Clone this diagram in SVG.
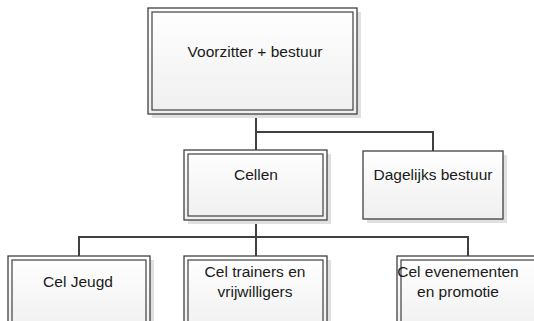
<svg xmlns="http://www.w3.org/2000/svg" width="534" height="321" viewBox="0 0 534 321">
<defs>
<linearGradient id="g" x1="0" y1="0" x2="0" y2="1">
<stop offset="0" stop-color="#ffffff"/>
<stop offset="1" stop-color="#efefef"/>
</linearGradient>
<style>
.sh{fill:#e0e0e0}
.o{fill:url(#g);stroke:#404040;stroke-width:1.3}
.i{fill:none;stroke:#404040;stroke-width:1.2}
.t{font-family:"Liberation Sans",Arial,sans-serif;font-size:15.5px;fill:#1a1a1a;text-anchor:middle}
.c{fill:none;stroke:#404040;stroke-width:2}
</style>
</defs>
<rect width="534" height="321" fill="#ffffff"/>
<g id="connectors">
<path class="c" d="M256,114 V150"/>
<path class="c" d="M256,132 H433 V151"/>
<path class="c" d="M256,220 V256"/>
<path class="c" d="M79,256 V237 H468 V256"/>
</g>
<g id="voorzitter">
<rect class="sh" x="152" y="12" width="209" height="106"/>
<rect class="o" x="148" y="8" width="209" height="106"/>
<rect class="i" x="152" y="12" width="201" height="98"/>
<text class="t" x="255" y="57">Voorzitter + bestuur</text>
</g>
<g id="cellen">
<rect class="sh" x="188" y="154" width="143" height="70"/>
<rect class="o" x="184" y="150" width="143" height="70"/>
<rect class="i" x="188" y="154" width="135" height="62"/>
<text class="t" x="256" y="180">Cellen</text>
</g>
<g id="dagelijks">
<rect class="sh" x="367" y="155" width="140" height="68"/>
<rect class="o" x="363" y="151" width="140" height="68"/>
<text class="t" x="433" y="180">Dagelijks bestuur</text>
</g>
<g id="jeugd">
<rect class="sh" x="12" y="260" width="142" height="80"/>
<rect class="o" x="8" y="256" width="142" height="80"/>
<rect class="i" x="12" y="260" width="134" height="72"/>
<text class="t" x="78" y="287">Cel Jeugd</text>
</g>
<g id="trainers">
<rect class="sh" x="188" y="260" width="143" height="80"/>
<rect class="o" x="184" y="256" width="143" height="80"/>
<rect class="i" x="188" y="260" width="135" height="72"/>
<text class="t" x="255" y="277">Cel trainers en</text>
<text class="t" x="255" y="297">vrijwilligers</text>
</g>
<g id="evenementen">
<rect class="sh" x="401" y="260" width="142" height="80"/>
<rect class="o" x="397" y="256" width="142" height="80"/>
<rect class="i" x="401" y="260" width="134" height="72"/>
<text class="t" x="458" y="277">Cel evenementen</text>
<text class="t" x="458" y="297">en promotie</text>
</g>
</svg>
